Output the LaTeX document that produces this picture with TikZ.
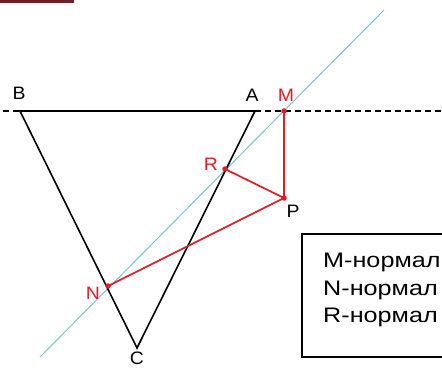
\documentclass[tikz,border=0pt]{standalone}
\usepackage{fontspec}
\setmainfont[FakeStretch=1.08]{Liberation Sans}
\newfontfamily\legendfont[FakeStretch=1.2]{Liberation Sans}
\usepackage{tikz}
\usetikzlibrary{positioning,calc}
\definecolor{projred}{RGB}{222,30,36}
\definecolor{lineblue}{RGB}{120,192,212}
\definecolor{barred}{RGB}{112,34,34}

\begin{document}
\begin{tikzpicture}[x=1pt,y=-1pt,font=\fontsize{18}{18}\selectfont,
  edge/.style={line width=1.6pt,black},
  proj/.style={line width=1.7pt,projred},
  dot/.style={circle,fill=projred,inner sep=0pt,minimum size=5.5pt},
  lbl/.style={inner sep=0pt}]
  \clip (0,0) rectangle (442,367);
  \fill[barred] (0,0) rectangle (74,3);
  % triangle and points
  \coordinate (B) at (20,111);
  \coordinate (A) at (255,111);
  \coordinate (C) at (137,348);
  \coordinate (M) at (284,111);
  \coordinate (P) at (284,198);
  \coordinate (R) at (225,169);
  \coordinate (N) at (108,286);
  \coordinate (lineS) at (40,357);
  \coordinate (lineE) at (384,10);
  \coordinate (dashL) at (3,111);
  \coordinate (dashR) at (442,111);
  \draw[lineblue,line width=1pt] (lineS) -- (lineE);
  \draw[edge,dashed,dash pattern=on 6pt off 4pt] (A) -- (dashR);
  \draw[edge,dashed,dash pattern=on 6pt off 4pt] (dashL) -- (B);
  \draw[edge] (A) -- (B) -- (C) -- cycle;
  \draw[proj] (M) -- (P) -- (R);
  \draw[proj] (P) -- (N);
  \foreach \p in {M,P,R,N}
    \node[dot] at (\p) {};
  % labels
  \node[lbl] (labB) at (19,93) {B};
  \node[lbl] (labA) at (252,95) {A};
  \node[lbl,projred] (labM) at (286,95) {M};
  \node[lbl,projred] (labR) at (211,164) {R};
  \node[lbl] (labP) at (293,211) {P};
  \node[lbl,projred] (labN) at (93,293) {N};
  \node[lbl] (labC) at (137,358) {C};
  % legend box
  \draw[line width=1.5pt] (302,234) rectangle (470,357);
  \foreach \t/\y in {M/267,N/295,R/322}
    \node[lbl,anchor=base west,font=\legendfont\fontsize{21}{21}\selectfont] (leg\t) at (323,\y) {\t-нормал};
\end{tikzpicture}
\end{document}
